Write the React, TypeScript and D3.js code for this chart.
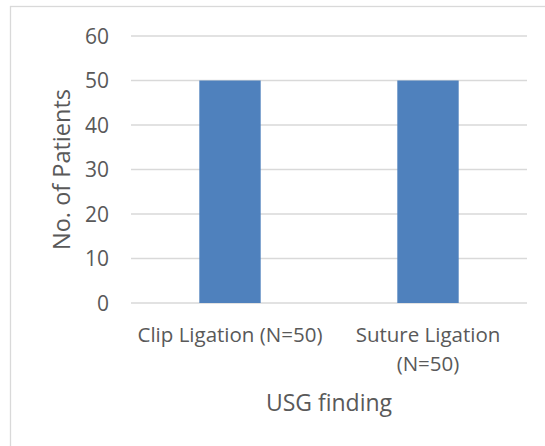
import { useEffect } from 'react';
import * as d3 from 'd3';

// Chart values
const categories = ['Clip Ligation (N=50)', 'Suture Ligation (N=50)'];
const categoryLines = [['Clip Ligation (N=50)'], ['Suture Ligation', '(N=50)']];
const patients = [50, 50];
const yTicks = [0, 10, 20, 30, 40, 50, 60];

const COLORS = {
    bar: '#4f81bd',
    grid: '#d9d9d9',
    border: '#d9d9d9',
    text: '#595959',
};

const FONT = '"Open Sans", "Noto Sans", sans-serif';

export default function App() {
    useEffect(() => {
        document.body.style.margin = '0';
    }, []);

    const width = 545;
    const height = 446;
    const plot = { left: 131, right: 527, top: 36, bottom: 303 };

    const x = d3.scaleBand<string>()
        .domain(categories)
        .range([plot.left, plot.right])
        .paddingInner(0.69)
        .paddingOuter(0.345);

    const y = d3.scaleLinear().domain([0, 60]).range([plot.bottom, plot.top]);

    const cx = (plot.left + plot.right) / 2;

    return (
        <svg width={width} height={height} style={{ display: 'block', background: '#fff' }}>
            <rect x={10.5} y={6.5} width={width} height={height} fill="#fff" stroke={COLORS.border} strokeWidth={1.3} />

            {/* gridlines */}
            {yTicks.map(t => (
                <line key={t} x1={plot.left} x2={plot.right} y1={y(t)} y2={y(t)}
                    stroke={COLORS.grid} strokeWidth={1.3} />
            ))}

            {/* bars */}
            {categories.map((c, i) => (
                <rect key={c} x={x(c)} width={x.bandwidth()} y={y(patients[i])}
                    height={y(0) - y(patients[i])} fill={COLORS.bar} />
            ))}

            {/* y tick labels */}
            {yTicks.map(t => (
                <text key={t} x={109} y={y(t)} dy="0.36em" textAnchor="end"
                    fill={COLORS.text} fontFamily={FONT} fontSize={21}>{t}</text>
            ))}

            {/* x category labels */}
            {categories.map((c, i) => (
                <text key={c} textAnchor="middle" fill={COLORS.text} fontFamily={FONT} fontSize={20.5}>
                    {categoryLines[i].map((ln, j) => (
                        <tspan key={j} x={(x(c) ?? 0) + x.bandwidth() / 2} y={342 + j * 29}>{ln}</tspan>
                    ))}
                </text>
            ))}

            {/* axis titles */}
            <text x={cx} y={411} textAnchor="middle" fill={COLORS.text} fontFamily={FONT} fontSize={23}>
                USG finding
            </text>
            <text transform={`translate(70, ${(plot.top + plot.bottom) / 2}) rotate(-90)`}
                textAnchor="middle" fill={COLORS.text} fontFamily={FONT} fontSize={23.5}>
                No. of Patients
            </text>
        </svg>
    );
}
